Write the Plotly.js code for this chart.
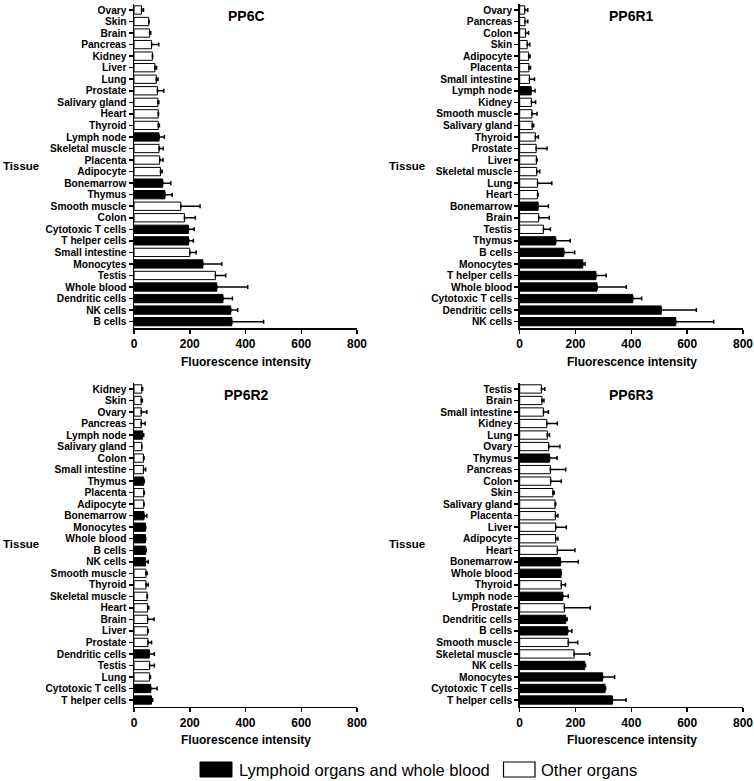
<!DOCTYPE html>
<html>
<head>
<meta charset="utf-8">
<script src="https://cdn.plot.ly/plotly-3.0.1.min.js"></script>
<style>html,body{margin:0;padding:0;background:#fff;}#chart{width:754px;height:781px;}</style>
</head>
<body>
<div id="chart"></div>
<script>
// ---------- DATA (categories listed top to bottom as in the figure) ----------
const lymphoid = ["Lymph node","Bonemarrow","Thymus","Cytotoxic T cells","T helper cells","Monocytes","Whole blood","Dendritic cells","NK cells","B cells"];

const pp6cTissues = ["Ovary","Skin","Brain","Pancreas","Kidney","Liver","Lung","Prostate","Salivary gland","Heart","Thyroid","Lymph node","Skeletal muscle","Placenta","Adipocyte","Bonemarrow","Thymus","Smooth muscle","Colon","Cytotoxic T cells","T helper cells","Small intestine","Monocytes","Testis","Whole blood","Dendritic cells","NK cells","B cells"];
const pp6cMean = [27,53,56,63,66,75,80,84,86,87,87,90,90,92,95,103,111,168,181,195,196,200,247,292,297,319,347,351];
const pp6cErr  = [7,1,4,26,1,6,6,23,3,1,4,19,15,12,6,29,26,69,39,21,17,23,68,37,111,34,25,114];

const pp6r1Tissues = ["Ovary","Pancreas","Colon","Skin","Adipocyte","Placenta","Small intestine","Lymph node","Kidney","Smooth muscle","Salivary gland","Thyroid","Prostate","Liver","Skeletal muscle","Lung","Heart","Bonemarrow","Brain","Testis","Thymus","B cells","Monocytes","T helper cells","Whole blood","Cytotoxic T cells","Dendritic cells","NK cells"];
const pp6r1Mean = [18,19,21,27,32,33,35,41,42,44,45,56,59,60,61,64,64,66,68,85,129,158,226,273,277,405,507,559];
const pp6r1Err  = [11,10,11,9,5,6,18,14,15,18,5,11,39,2,11,51,2,37,38,25,52,39,8,37,105,32,126,136];

const pp6r2Tissues = ["Kidney","Skin","Ovary","Pancreas","Lymph node","Salivary gland","Colon","Small intestine","Thymus","Placenta","Adipocyte","Bonemarrow","Monocytes","Whole blood","B cells","NK cells","Smooth muscle","Thyroid","Skeletal muscle","Heart","Brain","Liver","Prostate","Dendritic cells","Testis","Lung","Cytotoxic T cells","T helper cells"];
const pp6r2Mean = [28,26,26,26,31,28,34,34,35,35,35,36,41,41,42,41,43,43,47,49,49,49,50,55,56,56,60,63];
const pp6r2Err  = [3,4,20,14,4,0,2,8,2,2,1,10,1,1,2,10,4,8,1,4,23,2,13,18,17,3,23,4];

const pp6r3Tissues = ["Testis","Brain","Small intestine","Kidney","Lung","Ovary","Thymus","Pancreas","Colon","Skin","Salivary gland","Placenta","Liver","Adipocyte","Heart","Bonemarrow","Whole blood","Thyroid","Lymph node","Prostate","Dendritic cells","B cells","Smooth muscle","Skeletal muscle","NK cells","Monocytes","Cytotoxic T cells","T helper cells"];
const pp6r3Mean = [78,80,85,97,99,104,107,110,111,119,127,128,129,129,135,146,148,149,154,160,165,172,174,195,233,297,306,332];
const pp6r3Err  = [12,7,18,38,8,40,27,55,38,5,2,9,38,8,63,64,1,15,20,93,5,15,34,56,3,43,2,49];

const panelTitles = ["PP6C","PP6R1","PP6R2","PP6R3"];
const xTicks = [0,200,400,600,800];
const legendLabels = ["Lymphoid organs and whole blood","Other organs"];

// ---------- BUILD ----------
const W = 754, H = 781;
const FONT = "Liberation Sans, Arial, Helvetica, sans-serif";
const px = v => v / W;
const py = v => 1 - v / H;

const panels = [
  {t: pp6cTissues, m: pp6cMean, e: pp6cErr},
  {t: pp6r1Tissues, m: pp6r1Mean, e: pp6r1Err},
  {t: pp6r2Tissues, m: pp6r2Mean, e: pp6r2Err},
  {t: pp6r3Tissues, m: pp6r3Mean, e: pp6r3Err}
];

// pixel geometry of each panel
const geo = [
  {x0:134, x1:357, top:4.2, bot:328.0, n1:27.55, cx:246, tx:20.5, ty:166, titleY:16, xtitleY:362},
  {x0:519.7, x1:743, top:4.2, bot:328.0, n1:27.55, cx:631.5, tx:406.5, ty:166, titleY:16, xtitleY:362},
  {x0:134, x1:357, top:383.2, bot:706.7, n1:27.58, cx:246, tx:20.5, ty:544, titleY:394.5, xtitleY:740},
  {x0:519.7, x1:743, top:383.2, bot:706.7, n1:27.58, cx:631.5, tx:406.5, ty:544, titleY:394.5, xtitleY:740}
];

const data = [];
const layout = {
  width: W, height: H,
  margin: {l:0, r:0, t:0, b:0},
  paper_bgcolor: "#fff", plot_bgcolor: "#fff",
  showlegend: false,
  bargap: 0.28,
  font: {family: FONT, color: "#000"},
  annotations: [],
  shapes: []
};

panels.forEach((p, i) => {
  const s = i === 0 ? "" : String(i + 1);
  const g = geo[i];
  data.push({
    type: "bar",
    orientation: "h",
    x: p.m,
    y: p.t,
    xaxis: "x" + s,
    yaxis: "y" + s,
    marker: {
      color: p.t.map(c => lymphoid.includes(c) ? "#000" : "#fff"),
      line: {color: "#000", width: 1}
    },
    error_x: {
      type: "data", symmetric: false,
      array: p.e, arrayminus: p.e.map(() => 0),
      color: "#000", thickness: 1.5, width: 2
    },
    hoverinfo: "x+y"
  });
  layout["xaxis" + s] = {
    domain: [px(g.x0), px(g.x1)],
    anchor: "y" + s,
    range: [0, 800],
    tickmode: "array",
    tickvals: xTicks,
    ticktext: xTicks.map(String),
    ticks: "outside", ticklen: 4, tickwidth: 1.5, tickcolor: "#000",
    showline: true, linecolor: "#000", linewidth: 1.5,
    showgrid: false, zeroline: false,
    tickfont: {family: FONT, size: 12, color: "#000", weight: "bold"},
    fixedrange: true
  };
  layout["yaxis" + s] = {
    domain: [py(g.bot), py(g.top)],
    anchor: "x" + s,
    type: "category",
    categoryorder: "array",
    categoryarray: p.t,
    range: [g.n1, -0.5],
    tickmode: "array",
    tickvals: p.t,
    ticktext: p.t,
    ticks: "outside", ticklen: 4, tickwidth: 1.5, tickcolor: "#000",
    showline: true, linecolor: "#000", linewidth: 1.5,
    showgrid: false, zeroline: false,
    tickfont: {family: FONT, size: 10.2, color: "#000", weight: "bold"},
    fixedrange: true
  };
  layout.annotations.push(
    {xref:"paper", yref:"paper", x:px(g.cx), y:py(g.titleY), text:panelTitles[i], showarrow:false,
     xanchor:"center", yanchor:"middle", font:{family:FONT, size:14, color:"#000", weight:"bold"}},
    {xref:"paper", yref:"paper", x:px(g.tx), y:py(g.ty), text:"Tissue", showarrow:false,
     xanchor:"center", yanchor:"middle", font:{family:FONT, size:11.5, color:"#000", weight:"bold"}},
    {xref:"paper", yref:"paper", x:px(g.cx), y:py(g.xtitleY), text:"Fluorescence intensity", showarrow:false,
     xanchor:"center", yanchor:"middle", font:{family:FONT, size:12, color:"#000", weight:"bold"}}
  );
});

// legend (drawn as boxes + text)
layout.shapes.push(
  {type:"rect", xref:"paper", yref:"paper", x0:px(200), x1:px(232), y0:py(777), y1:py(762),
   fillcolor:"#000", line:{color:"#000", width:1}},
  {type:"rect", xref:"paper", yref:"paper", x0:px(503.5), x1:px(535), y0:py(777), y1:py(762),
   fillcolor:"#fff", line:{color:"#000", width:1.2}}
);
layout.annotations.push(
  {xref:"paper", yref:"paper", x:px(237), y:py(769.5), text:legendLabels[0], showarrow:false,
   xanchor:"left", yanchor:"middle", font:{family:FONT, size:16.5, color:"#000"}},
  {xref:"paper", yref:"paper", x:px(539), y:py(769.5), text:legendLabels[1], showarrow:false,
   xanchor:"left", yanchor:"middle", font:{family:FONT, size:16.5, color:"#000"}}
);

Plotly.newPlot("chart", data, layout, {displayModeBar: false, staticPlot: true});
</script>
</body>
</html>
